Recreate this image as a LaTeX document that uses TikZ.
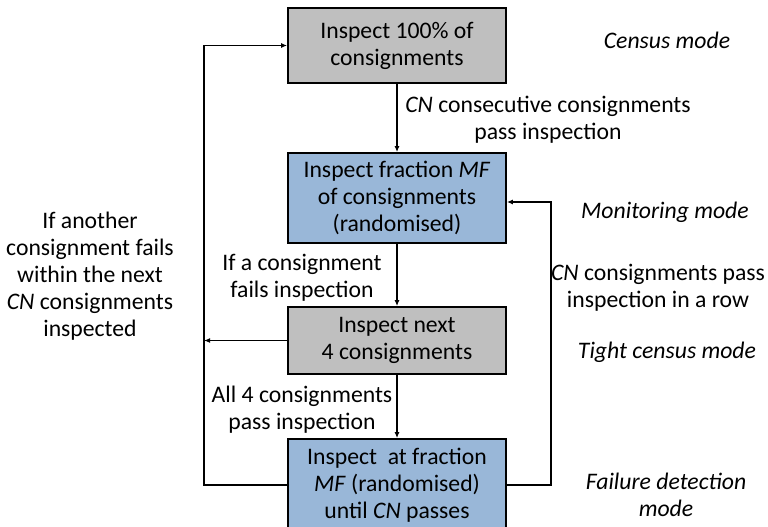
\documentclass[tikz,border=0pt]{standalone}
\usepackage{fontspec}
\setmainfont{Carlito}
\usetikzlibrary{arrows.meta}
\definecolor{boxgray}{HTML}{BFBFBF}
\definecolor{boxblue}{HTML}{99B7D8}
\begin{document}
\begin{tikzpicture}[x=1pt,y=-1pt,
  every node/.style={font=\fontsize{23.7}{27}\selectfont},
  box/.style={draw=black,line width=1.8pt,minimum width=218pt,align=center,inner sep=0pt},
  lbl/.style={align=center},
  conn/.style={line width=1.3pt,-{Latex[length=6pt,width=5pt]}},
  mode/.style={font=\fontsize{23.7}{27}\selectfont\itshape,align=center}]
\useasboundingbox (0,0) rectangle (768,527);
\clip (0,0) rectangle (768,527);
\node[box,fill=boxgray,minimum height=75pt] (b1) at (397,45.5) {Inspect 100\% of\\consignments};
\node[box,fill=boxblue,minimum height=90pt] (b2) at (397,198) {Inspect fraction \textit{MF}\\of consignments\\(randomised)};
\node[box,fill=boxgray,minimum height=67pt] (b3) at (397,340.5) {Inspect next\\4 consignments};
\node[box,fill=boxblue,minimum height=92pt] (b4) at (397,485) {Inspect~ at fraction\\\textit{MF} (randomised)\\until \textit{CN} passes};
\draw[conn] (b1) -- (b2);
\draw[conn] (b2) -- (b3);
\draw[conn] (b3) -- (b4);
\coordinate (lt) at (204,45.5);
\coordinate (rx) at (551,202);
\draw[conn] (b4.west) -- (b4.west -| lt) -- (lt) -- (b1.west);
\draw[conn] (b3.west) -- (b3.west -| lt);
\draw[conn] (b4.east) -- (b4.east -| rx) -- (rx) -- (rx -| b2.east);
\node[mode] (m1) at (667,40) {Census mode};
\node[lbl] (t1) at (548,120) {\textit{CN} consecutive consignments\\pass inspection};
\node[mode] (m2) at (665,212) {Monitoring mode};
\node[lbl] (t2) at (658,288) {\textit{CN} consignments pass\\inspection in a row};
\node[mode] (m3) at (667,352) {Tight census mode};
\node[mode] (m4) at (666,495) {Failure detection\\mode};
\node[lbl] (t3) at (90,276) {If another\\consignment fails\\within the next\\\textit{CN} consignments\\inspected};
\node[lbl] (t4) at (302,277.5) {If a consignment\\fails inspection};
\node[lbl] (t5) at (302,410) {All 4 consignments\\pass inspection};
\end{tikzpicture}
\end{document}
